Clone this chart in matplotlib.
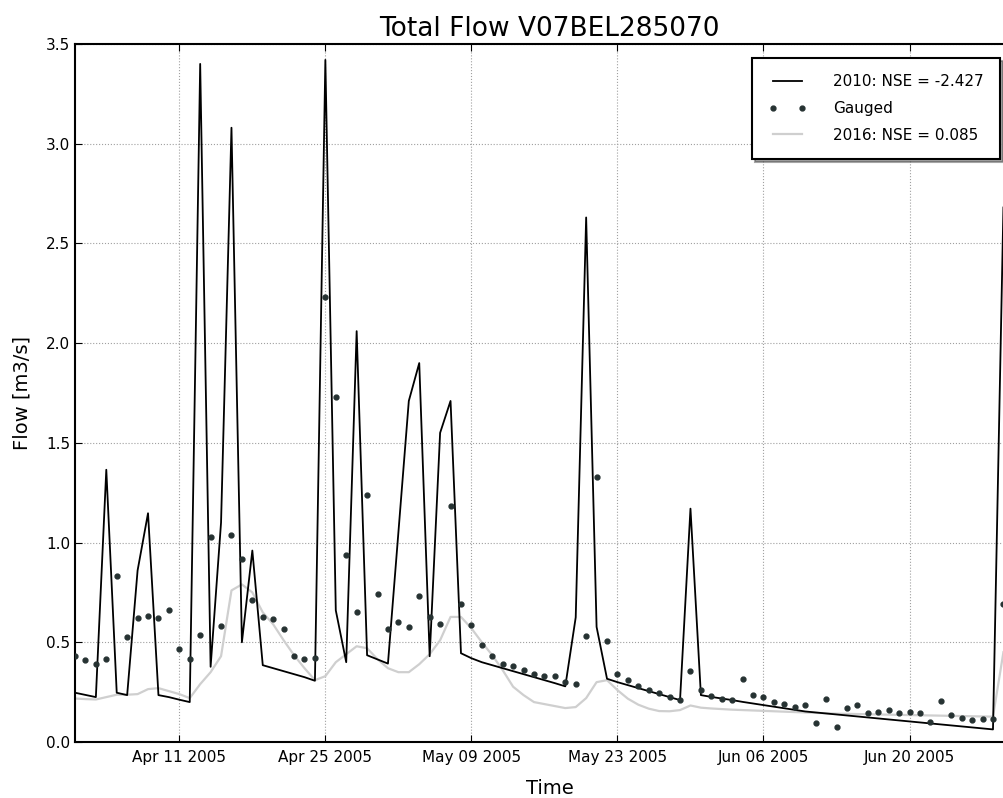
import numpy as np
import pandas as pd
import matplotlib
matplotlib.use("Agg")
import matplotlib.pyplot as plt
import matplotlib.dates as mdates

dates = pd.date_range("2005-04-01", periods=90, freq="D")

# 2010 model run
flow_2010 = [0.247, 0.236, 0.225, 1.365, 0.247, 0.235, 0.86, 1.147, 0.235, 0.225,
             0.212, 0.20, 3.40, 0.377, 1.10, 3.08, 0.50, 0.96, 0.385, 0.37,
             0.355, 0.34, 0.325, 0.307, 3.42, 0.66, 0.40, 2.06, 0.435, 0.414,
             0.393, 1.05, 1.71, 1.90, 0.43, 1.55, 1.71, 0.445, 0.42, 0.40,
             0.385, 0.37, 0.355, 0.34, 0.325, 0.31, 0.295, 0.279, 0.625, 2.63,
             0.577, 0.317, 0.30, 0.285, 0.27, 0.255, 0.24, 0.225, 0.21, 1.17,
             0.235, 0.226, 0.218, 0.210, 0.201, 0.193, 0.185, 0.177, 0.169, 0.161,
             0.153, 0.148, 0.143, 0.138, 0.133, 0.128, 0.123, 0.118, 0.113, 0.108,
             0.103, 0.098, 0.093, 0.088, 0.083, 0.078, 0.073, 0.068, 0.063, 2.68]

# observed flow
gauged = [0.43, 0.41, 0.393, 0.418, 0.83, 0.527, 0.62, 0.63, 0.62, 0.66,
          0.465, 0.415, 0.535, 1.03, 0.58, 1.04, 0.92, 0.71, 0.627, 0.615,
          0.565, 0.43, 0.415, 0.423, 2.23, 1.73, 0.94, 0.65, 1.24, 0.74,
          0.565, 0.60, 0.577, 0.73, 0.627, 0.59, 1.185, 0.69, 0.585, 0.485,
          0.43, 0.393, 0.38, 0.363, 0.34, 0.33, 0.33, 0.30, 0.29, 0.53,
          1.33, 0.505, 0.34, 0.31, 0.283, 0.26, 0.244, 0.225, 0.21, 0.356,
          0.263, 0.23, 0.217, 0.21, 0.317, 0.235, 0.225, 0.20, 0.19, 0.177,
          0.185, 0.097, 0.218, 0.073, 0.168, 0.185, 0.143, 0.152, 0.16, 0.143,
          0.148, 0.143, 0.102, 0.205, 0.135, 0.122, 0.11, 0.115, 0.115, 0.69]

# 2016 model run
flow_2016 = [0.218, 0.215, 0.213, 0.225, 0.237, 0.237, 0.24, 0.265, 0.27, 0.255,
             0.24, 0.22, 0.29, 0.35, 0.43, 0.76, 0.79, 0.75, 0.65, 0.59,
             0.51, 0.435, 0.37, 0.31, 0.33, 0.40, 0.44, 0.48, 0.47, 0.415,
             0.37, 0.35, 0.35, 0.39, 0.44, 0.51, 0.627, 0.627, 0.57, 0.50,
             0.435, 0.36, 0.277, 0.235, 0.20, 0.19, 0.18, 0.17, 0.175, 0.22,
             0.30, 0.31, 0.26, 0.217, 0.187, 0.167, 0.155, 0.154, 0.16, 0.183,
             0.172, 0.168, 0.165, 0.162, 0.16, 0.158, 0.156, 0.154, 0.152, 0.15,
             0.148, 0.146, 0.144, 0.142, 0.141, 0.14, 0.139, 0.138, 0.137, 0.136,
             0.135, 0.134, 0.133, 0.132, 0.131, 0.13, 0.129, 0.128, 0.127, 0.45]

tick_dates = pd.date_range("2005-04-11", periods=6, freq="14D")
x_end = pd.Timestamp("2005-07-01")

fig = plt.figure(figsize=(10.04, 7.98), dpi=100)
# the original picture is cropped on the right, so the axes run past the edge
ax = fig.add_axes([0.0747, 0.0702, 0.9455, 0.8747])

ax.plot(dates, flow_2010, color="black", lw=1.3, label="2010: NSE = -2.427", zorder=3)
ax.plot(dates, gauged, linestyle="none", marker="o", markersize=3.5,
        color="#263232", markeredgecolor="#263232", label="Gauged", zorder=4)
ax.plot(dates, flow_2016, color="#cfcfcf", lw=1.6, label="2016: NSE = 0.085", zorder=2)

ax.set_xlim(dates[0], x_end)
ax.set_ylim(0, 3.5)
ax.set_yticks(np.arange(0, 3.51, 0.5))
ax.set_xticks(tick_dates)
ax.xaxis.set_major_formatter(mdates.DateFormatter("%b %d %Y"))

ax.grid(True, linestyle=":", color="#a0a0a0", linewidth=0.8)
ax.tick_params(direction="in", top=True, right=True, length=5, labelsize=11)
ax.tick_params(axis="x", pad=6)
for sp in ax.spines.values():
    sp.set_linewidth(1.5)

ax.set_title("Total Flow V07BEL285070", fontsize=19)
ax.set_xlabel("Time", fontsize=14, labelpad=10)
ax.set_ylabel("Flow [m3/s]", fontsize=14, labelpad=10)

leg = ax.legend(loc="upper right", bbox_to_anchor=(0.9744, 0.98),
                numpoints=2, fontsize=11, fancybox=False, shadow=True,
                handlelength=2.5, handletextpad=1.75, borderpad=1.05,
                labelspacing=0.78, borderaxespad=0)
leg.get_frame().set_edgecolor("black")
leg.get_frame().set_linewidth(1.5)

fig.savefig("out.png", dpi=100)
